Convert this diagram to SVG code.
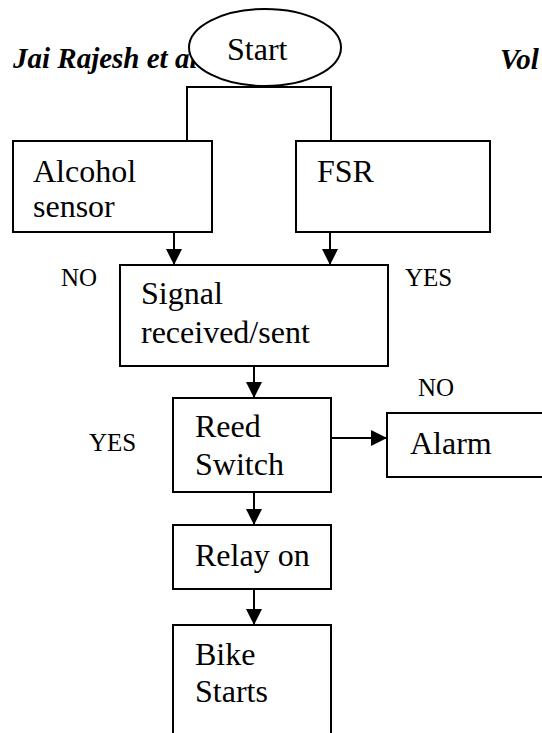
<svg xmlns="http://www.w3.org/2000/svg" width="542" height="733" viewBox="0 0 542 733">
<defs>
<style>
.box{fill:#fff;stroke:#000;stroke-width:2}
.t{font-size:32px;fill:#000}
.lbl{font-size:25px;fill:#000}
.hdr{font-size:29px;font-weight:bold;font-style:italic;fill:#000}
.c{fill:none;stroke:#000;stroke-width:2}
.a{fill:none;stroke:#000;stroke-width:2;marker-end:url(#arr)}
</style>
<marker id="arr" markerUnits="userSpaceOnUse" markerWidth="16" markerHeight="16" refX="16" refY="8" orient="auto" viewBox="0 0 16 16">
<path d="M0,0 L16,8 L0,16 z" fill="#000"/>
</marker>
</defs>
<rect width="542" height="733" fill="#fff"/>
<g font-family="'Liberation Serif', 'Times New Roman', Times, serif">
<g id="header">
<text class="hdr" x="13" y="68">Jai Rajesh et al.</text>
<text class="hdr" x="500" y="69">Vol</text>
</g>
<g id="connectors">
<path class="c" d="M187,140 V87 H331 V140"/>
<line class="a" x1="174" y1="232" x2="174" y2="265"/>
<line class="a" x1="330" y1="232" x2="330" y2="265"/>
<line class="a" x1="254" y1="366" x2="254" y2="398"/>
<line class="a" x1="331" y1="438" x2="387" y2="438"/>
<line class="a" x1="254" y1="492" x2="254" y2="525"/>
<line class="a" x1="254" y1="589" x2="254" y2="625"/>
</g>
<g id="start">
<ellipse class="box" cx="265" cy="47.5" rx="76" ry="38.5"/>
<text class="t" x="227" y="60">Start</text>
</g>
<g id="alcohol">
<rect class="box" x="13" y="141" width="199" height="91"/>
<text class="t" x="33" y="182">Alcohol</text>
<text class="t" x="33" y="217">sensor</text>
</g>
<g id="fsr">
<rect class="box" x="296" y="141" width="194" height="91"/>
<text class="t" x="317" y="182">FSR</text>
</g>
<g id="signal">
<rect class="box" x="120" y="265" width="268" height="101"/>
<text class="t" x="141" y="304">Signal</text>
<text class="t" x="141" y="343">received/sent</text>
</g>
<g id="reed">
<rect class="box" x="173" y="398" width="158" height="94"/>
<text class="t" x="195" y="437">Reed</text>
<text class="t" x="195" y="475">Switch</text>
</g>
<g id="alarm">
<rect class="box" x="387" y="413" width="170" height="64"/>
<text class="t" x="410" y="454">Alarm</text>
</g>
<g id="relay">
<rect class="box" x="173" y="525" width="158" height="64"/>
<text class="t" x="195" y="566">Relay on</text>
</g>
<g id="bike">
<rect class="box" x="173" y="625" width="158" height="120"/>
<text class="t" x="195" y="665">Bike</text>
<text class="t" x="195" y="702">Starts</text>
</g>
<g id="labels">
<text class="lbl" x="61" y="286">NO</text>
<text class="lbl" x="405" y="286">YES</text>
<text class="lbl" x="418" y="396">NO</text>
<text class="lbl" x="89" y="451">YES</text>
</g>
</g>
</svg>
